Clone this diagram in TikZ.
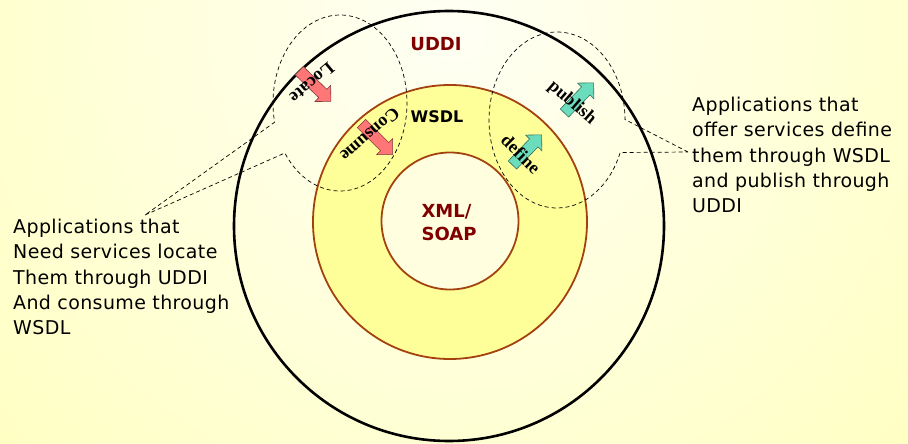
\documentclass[tikz,border=0pt]{standalone}
\usepackage{fontspec}
\setmainfont{Liberation Serif}
\newfontfamily\handfont[LetterSpace=2]{DejaVu Sans}
\newfontfamily\labelfont{DejaVu Sans}
\usetikzlibrary{shapes.arrows, shapes.callouts}

\definecolor{bgcream}{HTML}{FFFFF4}
\definecolor{bgyellow}{HTML}{FFFFB0}
\definecolor{ringyellow}{HTML}{FFFF9A}
\definecolor{coreyellow}{HTML}{FFFFE0}
\definecolor{ringbrown}{HTML}{A3420F}
\definecolor{layerred}{HTML}{800000}
\definecolor{locatered}{HTML}{FF7676}
\definecolor{publishgreen}{HTML}{6CDDBC}

\begin{document}
\begin{tikzpicture}[x=1pt, y=-1pt,
    layer/.style={circle, inner sep=0pt},
    layername/.style={font=\labelfont\bfseries\fontsize{18}{23}\selectfont, text=layerred, inner sep=0pt},
    blockarrow/.style={single arrow, draw=#1!50!black, fill=#1, line width=0.6pt, inner xsep=0pt,
        inner ysep=5.5pt, single arrow head extend=5.5pt, minimum height=44pt},
    verb/.style={font=\bfseries\fontsize{18}{18}\selectfont, inner sep=0pt},
    bubble/.style={ellipse callout, draw, dash pattern=on 4pt off 3pt, line width=0.7pt,
        inner sep=0pt, callout pointer arc=22},
    note/.style={font=\handfont\fontsize{19}{25.3}\selectfont, align=left, inner sep=0pt, anchor=north west}]

    %the slide background
    \useasboundingbox (0,0) rectangle (908,444);
    \begin{scope}
        \clip (0,0) rectangle (908,444);
        \shade[inner color=bgcream, outer color=bgyellow] (454,30) circle (860);
    \end{scope}

    %define the three layers
    \node[layer, draw=black, line width=2.6pt, minimum size=430pt] (uddi) at (449,226) {};
    \node[layer, draw=ringbrown, fill=ringyellow, line width=1.8pt, minimum size=274pt] (wsdl) at (450,222) {};
    \node[layer, draw=ringbrown, fill=coreyellow, line width=1.8pt, minimum size=137pt] (xml) at (450,221) {};

    \node[layername] (uddilabel) at (436,44) {UDDI};
    \node[layername, text=black, font=\labelfont\bfseries\fontsize{16}{18}\selectfont] (wsdllabel) at (437,117) {WSDL};
    \node[layername, align=left] (xmllabel) at (449,223) {XML/\\SOAP};

    %define the two callouts
    \coordinate (needtip) at (145,215);
    \coordinate (offertip) at (688,152);
    \node[bubble, minimum width=134pt, minimum height=176pt, callout absolute pointer={(needtip)}] (needbubble) at (340,103) {};
    \node[bubble, minimum width=136pt, minimum height=176pt, callout absolute pointer={(offertip)}] (offerbubble) at (557,120) {};

    %define the block arrows
    \node[blockarrow=locatered, rotate=-44] (locatearrow) at (313,84) {};
    \node[blockarrow=locatered, rotate=-45] (consumearrow) at (375,137) {};
    \node[blockarrow=publishgreen, rotate=46, minimum height=42pt] (publisharrow) at (577,100) {};
    \node[blockarrow=publishgreen, rotate=46, minimum height=42pt] (definearrow) at (525,152) {};

    \node[verb, rotate=-140] (locatetext) at (312,83) {Locate};
    \node[verb, rotate=-139] (consumetext) at (370,135) {Consume};
    \node[verb, rotate=-41] (publishtext) at (572,103) {publish};
    \node[verb, rotate=-45] (definetext) at (521,154) {define};

    %the notes beside the circles
    \node[note] (needtext) at (13,219) {Applications that\\Need services locate\\Them through UDDI\\And consume through\\WSDL};
    \node[note] (offertext) at (692,97) {Applications that\\offer services define\\them through WSDL\\and publish through\\UDDI};
\end{tikzpicture}
\end{document}
